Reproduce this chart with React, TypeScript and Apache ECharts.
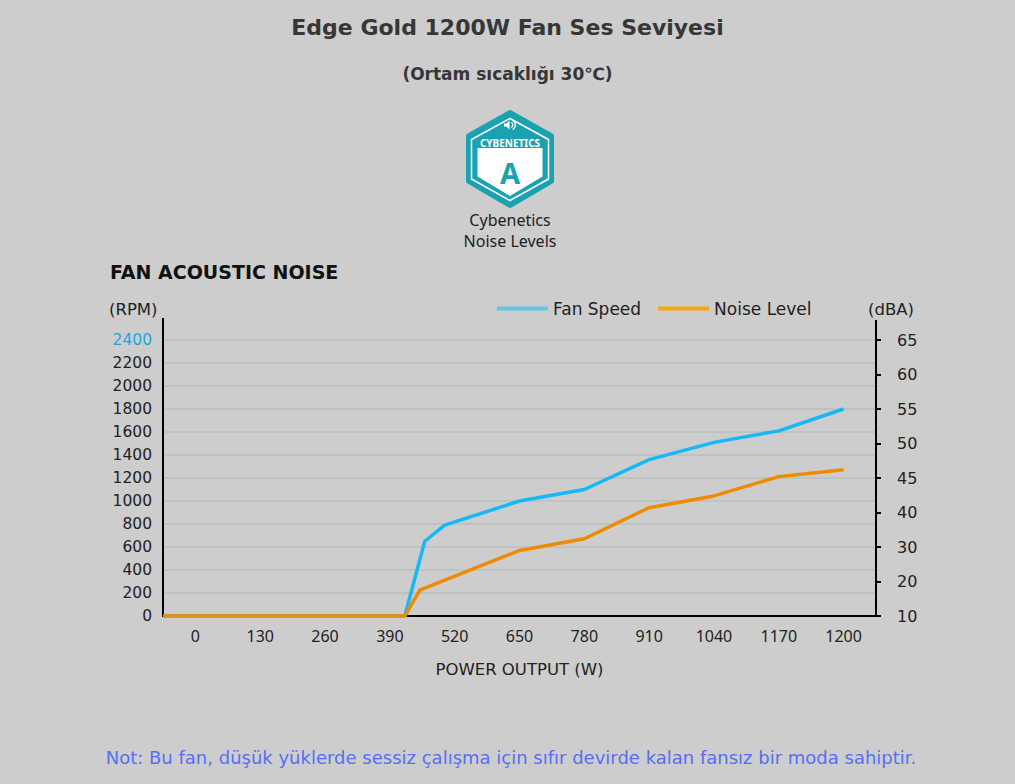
import React, { useEffect, useRef } from "react";
import * as echarts from "echarts";

// ---- data ----
const X_LABELS = ["0", "130", "260", "390", "520", "650", "780", "910", "1040", "1170", "1200"];
const X_TICK_WATTS = [0, 130, 260, 390, 520, 650, 780, 910, 1040, 1170, 1200];
const DBA_TICKS = [10, 20, 30, 40, 45, 50, 55, 60, 65];

const FAN_WATTS = [0, 390, 420, 460, 500, 650, 780, 910, 1040, 1170, 1200];
const FAN_RPM = [0, 0, 0, 650, 790, 1000, 1100, 1360, 1510, 1610, 1800];

const NOISE_WATTS = [0, 390, 420, 450, 650, 780, 910, 1040, 1170, 1200];
const NOISE_DBA = [10, 10, 10, 17.5, 29, 32.4, 40.7, 42.4, 45.2, 46.2];

// ---- helpers (piecewise scales matching the chart's uneven tick spacing) ----
function piecewise(ticks: number[], v: number): number {
  for (let i = 0; i < ticks.length - 1; i++) {
    if (v <= ticks[i + 1]) return i + (v - ticks[i]) / (ticks[i + 1] - ticks[i]);
  }
  return ticks.length - 1;
}
const X_MIN = -0.5;
const X_MAX = X_TICK_WATTS.length - 0.5;

const FONT = "DejaVu Sans";
const XFONT = "Noto Sans";
const TEAL = "#1ba2b2";

export default function App() {
  const ref = useRef<HTMLDivElement>(null);
  useEffect(() => {
    if (!ref.current) return;
    const chart = echarts.init(ref.current, null, { renderer: "svg" });

    const fanData = [[X_MIN, FAN_RPM[0]]].concat(
      FAN_WATTS.map((w, i) => [piecewise(X_TICK_WATTS, w), FAN_RPM[i]])
    );
    const noiseData = [[X_MIN, piecewise(DBA_TICKS, NOISE_DBA[0])]].concat(
      NOISE_WATTS.map((w, i) => [piecewise(X_TICK_WATTS, w), piecewise(DBA_TICKS, NOISE_DBA[i])])
    );

    const option: any = {
      animation: false,
      backgroundColor: "#cdcdcd",
      title: [
        {
          text: "Edge Gold 1200W Fan Ses Seviyesi",
          left: "center",
          top: 11,
          textStyle: { fontFamily: FONT, fontSize: 22, fontWeight: "bold", color: "#363636" },
        },
        {
          text: "(Ortam sıcaklığı 30℃)",
          left: "center",
          top: 60,
          textStyle: { fontFamily: FONT, fontSize: 17, fontWeight: "bold", color: "#363636" },
        },
      ],
      legend: {
        left: 497,
        top: 300,
        icon: "rect",
        itemWidth: 51,
        itemHeight: 4,
        itemGap: 17,
        padding: 0,
        textStyle: { fontFamily: FONT, fontSize: 17, color: "#222" },
        data: [
          { name: "Fan Speed", itemStyle: { color: "#68c3ea" } },
          { name: "Noise Level", itemStyle: { color: "#f5a90a" } },
        ],
      },
      grid: { left: 163, right: 139, top: 340, bottom: 168 },
      xAxis: [
        {
          type: "category",
          data: X_LABELS,
          boundaryGap: true,
          axisLine: { lineStyle: { color: "#000", width: 2 } },
          axisTick: { alignWithLabel: true, length: 5, lineStyle: { color: "#000", width: 2 } },
          axisLabel: { margin: 12, fontFamily: XFONT, fontSize: 16, color: "#222" },
          name: "POWER OUTPUT (W)",
          nameLocation: "middle",
          nameGap: 45,
          nameTextStyle: { fontFamily: FONT, fontSize: 16.5, color: "#222" },
        },
        { type: "value", min: X_MIN, max: X_MAX, show: false },
      ],
      yAxis: [
        {
          type: "value",
          min: 0,
          max: 2400,
          interval: 200,
          axisLine: { show: true, onZero: false, lineStyle: { color: "#000", width: 2 } },
          axisTick: { show: false },
          axisLabel: {
            margin: 11,
            fontFamily: FONT,
            fontSize: 15.5,
            formatter: (v: number) => String(v),
            color: (v: any) => (Number(v) === 2400 ? "#1ba6e2" : "#222"),
          },
          splitLine: { lineStyle: { color: "#b6c0bb", width: 1.5 } },
        },
        {
          type: "value",
          position: "right",
          min: 0,
          max: DBA_TICKS.length - 1,
          interval: 1,
          axisLine: { show: true, onZero: false, lineStyle: { color: "#000", width: 2 } },
          axisTick: { show: true, length: 5, lineStyle: { color: "#000", width: 2 } },
          axisLabel: {
            margin: 21,
            fontFamily: FONT,
            fontSize: 16,
            color: "#222",
            formatter: (v: number) => String(DBA_TICKS[Math.round(v)] ?? ""),
          },
          splitLine: { show: false },
        },
      ],
      series: [
        {
          name: "Fan Speed",
          type: "line",
          xAxisIndex: 1,
          yAxisIndex: 0,
          data: fanData,
          symbol: "none",
          lineStyle: { color: "#14b9f5", width: 3.5 },
          itemStyle: { color: "#14b9f5" },
        },
        {
          name: "Noise Level",
          type: "line",
          xAxisIndex: 1,
          yAxisIndex: 1,
          data: noiseData,
          symbol: "none",
          lineStyle: { color: "#f08a00", width: 3.5 },
          itemStyle: { color: "#f08a00" },
        },
      ],
      graphic: [
        // axis extensions above top tick
        { type: "line", shape: { x1: 163, y1: 318, x2: 163, y2: 341 }, style: { stroke: "#000", lineWidth: 2 } },
        { type: "line", shape: { x1: 876, y1: 320, x2: 876, y2: 341 }, style: { stroke: "#000", lineWidth: 2 } },
        {
          type: "text",
          left: 109,
          top: 301,
          style: { text: "(RPM)", fontFamily: FONT, fontSize: 16.5, fill: "#222" },
        },
        {
          type: "text",
          left: 868,
          top: 301,
          style: { text: "(dBA)", fontFamily: FONT, fontSize: 16.5, fill: "#222" },
        },
        {
          type: "text",
          left: 110,
          top: 262,
          style: {
            text: "FAN ACOUSTIC NOISE",
            fontFamily: FONT,
            fontSize: 19,
            fontWeight: "bold",
            fill: "#111",
          },
        },
        // Cybenetics badge
        {
          type: "polygon",
          shape: { points: [[510, 113], [551, 136], [551, 181], [510, 205], [469, 181], [469, 136]] },
          style: { fill: TEAL, stroke: TEAL, lineWidth: 6, lineJoin: "round" },
        },
        {
          type: "polygon",
          shape: { points: [[510, 118.5], [548.5, 139.5], [548.5, 179], [510, 200.5], [471.5, 179], [471.5, 139.5]] },
          style: { fill: "none", stroke: "#fff", lineWidth: 1.5, lineJoin: "round" },
        },
        {
          type: "polygon",
          shape: { points: [[477.5, 148], [542.5, 148], [542.5, 176.5], [510, 196], [477.5, 176.5]] },
          style: { fill: "#fff" },
        },
        {
          type: "polygon",
          shape: { points: [[504, 123.5], [506.5, 123.5], [509.5, 120.5], [509.5, 129.5], [506.5, 126.5], [504, 126.5]] },
          style: { fill: "#fff" },
        },
        {
          type: "arc",
          shape: { cx: 510, cy: 125, r: 2.8, startAngle: -Math.PI / 3, endAngle: Math.PI / 3 },
          style: { stroke: "#fff", lineWidth: 1.2, fill: "none" },
        },
        {
          type: "arc",
          shape: { cx: 510, cy: 125, r: 5.3, startAngle: -Math.PI / 3, endAngle: Math.PI / 3 },
          style: { stroke: "#fff", lineWidth: 1.2, fill: "none" },
        },
        {
          type: "text",
          x: 510,
          y: 142.5,
          style: {
            text: "CYBENETICS",
            fontFamily: "Noto Sans",
            fontSize: 10,
            fontWeight: "bold",
            fill: "#fff",
            align: "center",
            verticalAlign: "middle",
          },
        },
        {
          type: "text",
          x: 510,
          y: 172,
          style: {
            text: "A",
            fontFamily: "Noto Sans",
            fontSize: 29,
            fontWeight: "bold",
            fill: TEAL,
            align: "center",
            verticalAlign: "middle",
          },
        },
        {
          type: "text",
          x: 510,
          y: 220,
          style: { text: "Cybenetics", fontFamily: "Noto Sans", fontSize: 16, fill: "#222", align: "center", verticalAlign: "middle" },
        },
        {
          type: "text",
          x: 510,
          y: 241,
          style: { text: "Noise Levels", fontFamily: "Noto Sans", fontSize: 16, fill: "#222", align: "center", verticalAlign: "middle" },
        },
        {
          type: "text",
          x: 511,
          y: 757,
          style: {
            text: "Not: Bu fan, düşük yüklerde sessiz çalışma için sıfır devirde kalan fansız bir moda sahiptir.",
            fontFamily: FONT,
            fontSize: 18,
            fill: "#5470f5",
            align: "center",
            verticalAlign: "middle",
          },
        },
      ],
    };
    chart.setOption(option);
    return () => chart.dispose();
  }, []);

  return (
    <div
      ref={ref}
      style={{ position: "absolute", left: 0, top: 0, width: 1015, height: 784, background: "#cdcdcd" }}
    />
  );
}
